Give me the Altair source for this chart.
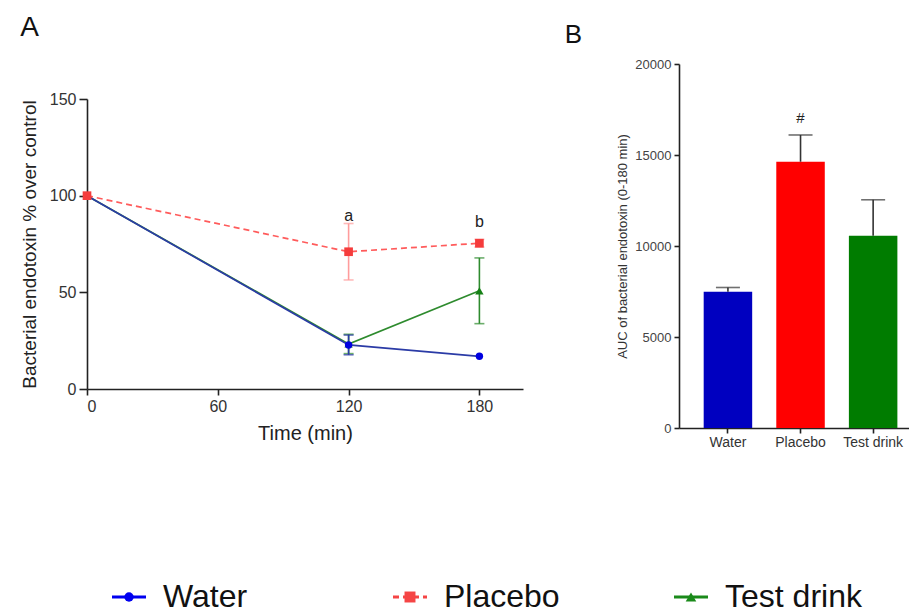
import altair as alt
import pandas as pd

FONT = "Liberation Sans"

# ---------------- data ----------------
groups = ["Water", "Placebo", "Test drink"]
time_min = [0, 120, 180]
water_mean = [100, 22.8, 16.9]
water_sem = [0, 5.1, 0]
placebo_mean = [100, 71.0, 75.4]
placebo_sem = [0, 14.6, 2.0]
test_mean = [100, 23.3, 50.8]
test_sem = [0, 5.0, 17.0]

annot_time = [120, 180]
annot_value = [89.3, 86.2]
annot_text = ["a", "b"]

auc_mean = [7480, 14630, 10560]
auc_sem = [240, 1470, 1980]
auc_mark_group = ["Placebo"]
auc_mark_value = [17013]
auc_mark_text = ["#"]

# ---------------- styles ----------------
style = {
    "Water": dict(line="#2b3ba6", point="#0000e0", err="#2b3ba6", shape="circle", size=55, dash=None,
                  legend="#0000f0", bar="#0000c0"),
    "Placebo": dict(line="#ff5b5b", point="#f53c3c", err="#ff9c9c", shape="square", size=75, dash=[6, 4],
                    legend="#f54545", bar="#ff0000"),
    "Test drink": dict(line="#2e8b2e", point="#158015", err="#2e8b2e", shape="triangle-up", size=70, dash=None,
                       legend="#1a8a1a", bar="#007c00"),
}

rows = []
for g, m, s in zip(groups, [water_mean, placebo_mean, test_mean], [water_sem, placebo_sem, test_sem]):
    for t, mm, ss in zip(time_min, m, s):
        rows.append(dict(group=g, time=t, mean=mm, sem=ss, lo=mm - ss, hi=mm + ss))
dfA = pd.DataFrame(rows)
dfAnn = pd.DataFrame(dict(time=annot_time, mean=annot_value, label=annot_text))

A_W, A_H = 436, 325
axA_x = alt.Axis(values=[0, 60, 120, 180], title="Time (min)", grid=False, tickSize=6,
                 labelFontSize=16, titleFontSize=20, titleFontWeight="normal", labelPadding=3,
                 titlePadding=9, labelColor="#333", titleColor="#222")
axA_y = alt.Axis(values=[0, 50, 100, 150], title="Bacterial endotoxin % over control", grid=False,
                 tickSize=8, labelFontSize=16, titleFontSize=19, titleFontWeight="normal",
                 labelPadding=3, titlePadding=10, labelColor="#333", titleColor="#222")
scA_x = alt.Scale(domain=[0, 200], nice=False)
scA_y = alt.Scale(domain=[0, 150], nice=False, range=[A_H, 35])


def XA():
    return alt.X("time:Q", scale=scA_x, axis=axA_x)


def YA(field):
    return alt.Y(f"{field}:Q", scale=scA_y, axis=axA_y)


baseA = alt.Chart(dfA)
draw_order = ["Test drink", "Water", "Placebo"]
line_layers, err_layers, pt_layers = [], [], []
for g in draw_order:
    st = style[g]
    sub = baseA.transform_filter(alt.datum.group == g)
    kw = dict(color=st["line"], strokeWidth=1.7)
    if st["dash"]:
        kw["strokeDash"] = st["dash"]
    line_layers.append(sub.mark_line(**kw).encode(x=XA(), y=YA("mean")))
    e = sub.transform_filter(alt.datum.sem > 0)
    err_layers.append(e.mark_rule(color=st["err"], strokeWidth=1.6).encode(x=XA(), y=YA("lo"), y2="hi:Q"))
    err_layers.append(e.mark_tick(orient="horizontal", size=10, thickness=1.6, color=st["err"])
                      .encode(x=XA(), y=YA("lo")))
    err_layers.append(e.mark_tick(orient="horizontal", size=10, thickness=1.6, color=st["err"])
                      .encode(x=XA(), y=YA("hi")))
    pt_layers.append(sub.mark_point(filled=True, opacity=1, shape=st["shape"], size=st["size"],
                                    color=st["point"]).encode(x=XA(), y=YA("mean")))

ann = alt.Chart(dfAnn).mark_text(fontSize=16, font=FONT, color="#222", baseline="middle").encode(
    x=XA(), y=YA("mean"), text="label:N")

panelA = alt.layer(*line_layers, *err_layers, *pt_layers, ann).properties(
    width=A_W, height=A_H,
    title=alt.TitleParams("A", anchor="start", frame="bounds", fontSize=28, fontWeight="normal",
                          font=FONT, color="#111", offset=22))

# ---------------- panel B ----------------
dfB = pd.DataFrame(dict(group=groups, mean=auc_mean, sem=auc_sem))
dfB["hi"] = dfB["mean"] + dfB["sem"]
dfHash = pd.DataFrame(dict(group=auc_mark_group, mean=auc_mark_value, label=auc_mark_text))

scB_x = alt.Scale(domain=groups, paddingInner=0.332, paddingOuter=0.25, align=0.68)
scB_y = alt.Scale(domain=[0, 20000], nice=False)
axB_x = alt.Axis(title=None, labelAngle=0, tickSize=5, labelFontSize=14, labelPadding=2,
                 labelColor="#333")
axB_y = alt.Axis(values=[0, 5000, 10000, 15000, 20000], format="d", grid=False, tickSize=5,
                 labelFontSize=13, labelPadding=3, labelColor="#444",
                 title="AUC of bacterial endotoxin (0-180 min)", titleFontSize=13,
                 titleFontWeight="normal", titleColor="#333", titlePadding=5)


def XB():
    return alt.X("group:N", scale=scB_x, axis=axB_x, sort=groups)


def YB(field):
    return alt.Y(f"{field}:Q", scale=scB_y, axis=axB_y)


bars = alt.Chart(dfB).mark_bar().encode(
    x=XB(), y=YB("mean"),
    color=alt.Color("group:N", scale=alt.Scale(domain=groups, range=[style[g]["bar"] for g in groups]),
                    legend=None))
errB = alt.Chart(dfB).mark_rule(color="#333", strokeWidth=1.6).encode(x=XB(), y=YB("mean"), y2="hi:Q")
capB = alt.Chart(dfB).mark_tick(orient="horizontal", size=24, thickness=1.6, color="#333").encode(
    x=XB(), y=YB("hi"))
hashB = alt.Chart(dfHash).mark_text(fontSize=15, font=FONT, color="#222", baseline="middle").encode(
    x=XB(), y=YB("mean"), text="label:N")

panelB = alt.layer(bars, errB, capB, hashB).properties(
    width=230, height=364,
    title=alt.TitleParams("B", anchor="start", frame="bounds", fontSize=26, fontWeight="normal",
                          font=FONT, color="#111", offset=10, dx=-52))

top = alt.hconcat(panelA, panelB, spacing=41)

# ---------------- legend panel ----------------
dfL = pd.DataFrame(dict(series=groups))
legX = alt.X("series:N", scale=alt.Scale(type="point", domain=groups, range=[42, 604], padding=0),
             axis=None)
LH = 32
leg_layers = []
for g in groups:
    st = style[g]
    sub = alt.Chart(dfL).transform_filter(alt.datum.series == g)
    kw = dict(color=st["legend"], strokeWidth=3, xOffset=-17, x2Offset=17)
    if st["dash"]:
        kw["strokeDash"] = st["dash"]
    leg_layers.append(sub.mark_rule(**kw).encode(x=legX, x2="series:N", y=alt.value(LH / 2)))
    leg_layers.append(sub.mark_point(filled=True, opacity=1, shape=st["shape"], size=st["size"] * 1.6,
                                     color=st["legend"]).encode(x=legX, y=alt.value(LH / 2)))
legText = alt.Chart(dfL).mark_text(fontSize=32, font=FONT, color="#111", align="left", baseline="middle",
                                   dx=34).encode(x=legX, y=alt.value(LH / 2), text="series:N")
legend = alt.layer(*leg_layers, legText).properties(width=800, height=LH)

chart = alt.vconcat(top, legend, spacing=132).properties(
    padding={"left": 12, "top": 6, "right": 0, "bottom": 0},
    background="white"
).configure_view(strokeWidth=0, stroke="transparent").configure_axis(
    domainColor="#222", tickColor="#222", domainWidth=1.6, tickWidth=1.6,
    labelFont=FONT, titleFont=FONT
)

chart.save("out.html", embed_options={"renderer": "svg", "actions": False})
